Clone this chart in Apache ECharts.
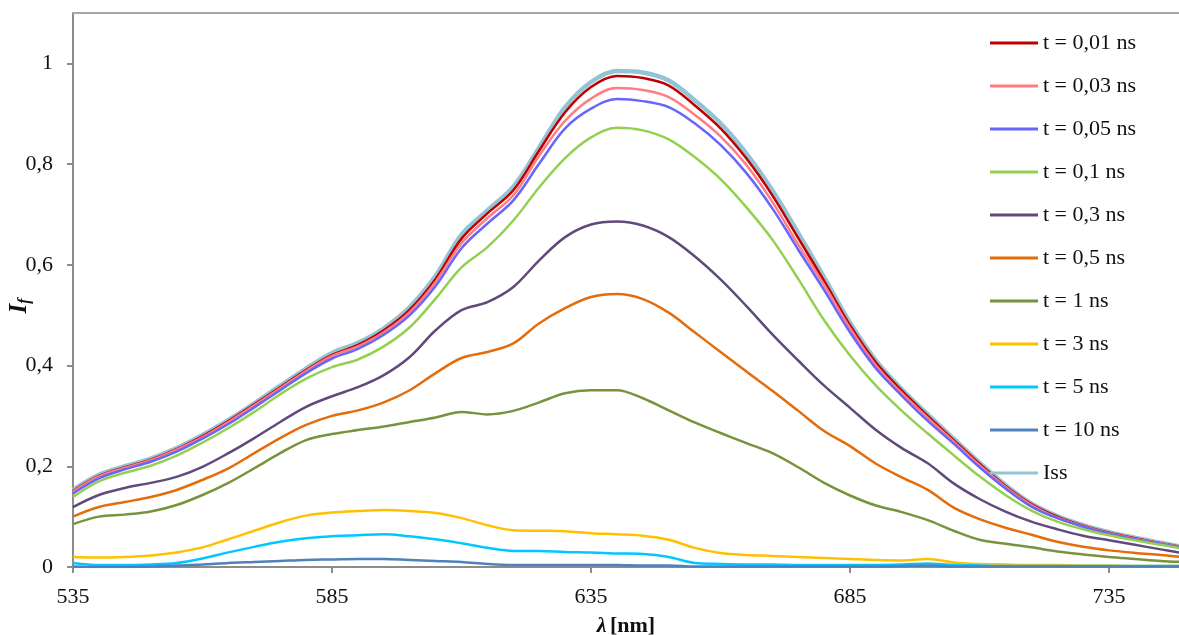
<!DOCTYPE html>
<html lang="en">
  <head>
    <meta charset="UTF-8" />
    <title>spectra</title>
    <style>
      html, body { margin: 0; padding: 0; background: #fff; }
      #main { width: 1179px; height: 635px; }
    </style>
  </head>
  <body>
    <div id="main"></div>
  </body>
  <script src="https://cdn.jsdelivr.net/npm/echarts@6/dist/echarts.min.js"></script>
  <script>
    /* globals echarts */

    // wavelength, nm (every 5 nm, last point at the right edge)
    var wavelengths = [535, 540, 545, 550, 555, 560, 565, 570, 575, 580, 585, 590, 595, 600, 605, 610, 615, 620, 625, 630, 635, 640, 645, 650, 655, 660, 665, 670, 675, 680, 685, 690, 695, 700, 705, 710, 715, 720, 725, 730, 735, 740, 745, 749];

    var t001 = [0.151, 0.181, 0.198, 0.213, 0.234, 0.260, 0.290, 0.323, 0.357, 0.391, 0.421, 0.441, 0.470, 0.511, 0.572, 0.652, 0.702, 0.748, 0.827, 0.903, 0.953, 0.975, 0.971, 0.956, 0.917, 0.871, 0.811, 0.738, 0.653, 0.568, 0.480, 0.406, 0.350, 0.300, 0.252, 0.205, 0.161, 0.125, 0.100, 0.082, 0.068, 0.057, 0.047, 0.040];
    var t003 = [0.150, 0.180, 0.197, 0.212, 0.233, 0.258, 0.288, 0.321, 0.355, 0.389, 0.419, 0.438, 0.466, 0.506, 0.566, 0.643, 0.693, 0.738, 0.817, 0.886, 0.930, 0.951, 0.947, 0.933, 0.898, 0.855, 0.798, 0.725, 0.640, 0.560, 0.474, 0.400, 0.345, 0.296, 0.249, 0.202, 0.159, 0.123, 0.098, 0.081, 0.067, 0.056, 0.047, 0.039];
    var t005 = [0.146, 0.176, 0.194, 0.209, 0.229, 0.255, 0.284, 0.317, 0.351, 0.385, 0.414, 0.433, 0.461, 0.500, 0.558, 0.633, 0.682, 0.728, 0.801, 0.871, 0.910, 0.929, 0.925, 0.913, 0.881, 0.838, 0.782, 0.712, 0.630, 0.550, 0.466, 0.394, 0.340, 0.290, 0.245, 0.198, 0.156, 0.120, 0.097, 0.080, 0.066, 0.055, 0.046, 0.038];
    var t01 = [0.139, 0.170, 0.187, 0.201, 0.221, 0.247, 0.276, 0.308, 0.343, 0.374, 0.397, 0.412, 0.438, 0.476, 0.533, 0.595, 0.635, 0.688, 0.754, 0.812, 0.853, 0.872, 0.867, 0.849, 0.814, 0.770, 0.714, 0.650, 0.572, 0.490, 0.420, 0.360, 0.310, 0.265, 0.222, 0.180, 0.143, 0.112, 0.090, 0.075, 0.063, 0.053, 0.044, 0.037];
    var t03 = [0.119, 0.143, 0.157, 0.167, 0.179, 0.199, 0.226, 0.256, 0.288, 0.318, 0.339, 0.357, 0.381, 0.417, 0.470, 0.510, 0.526, 0.556, 0.609, 0.655, 0.680, 0.686, 0.678, 0.655, 0.617, 0.571, 0.518, 0.462, 0.410, 0.360, 0.316, 0.272, 0.236, 0.206, 0.166, 0.135, 0.110, 0.090, 0.075, 0.062, 0.053, 0.044, 0.035, 0.028];
    var t05 = [0.100, 0.119, 0.129, 0.139, 0.153, 0.173, 0.196, 0.226, 0.256, 0.282, 0.300, 0.311, 0.327, 0.351, 0.385, 0.415, 0.427, 0.444, 0.484, 0.514, 0.536, 0.542, 0.532, 0.505, 0.466, 0.427, 0.388, 0.350, 0.310, 0.270, 0.240, 0.205, 0.178, 0.153, 0.118, 0.095, 0.078, 0.064, 0.050, 0.040, 0.033, 0.028, 0.024, 0.020];
    var t1 = [0.085, 0.100, 0.104, 0.110, 0.123, 0.143, 0.167, 0.196, 0.226, 0.252, 0.264, 0.272, 0.279, 0.288, 0.297, 0.308, 0.303, 0.310, 0.327, 0.345, 0.351, 0.351, 0.335, 0.311, 0.287, 0.266, 0.246, 0.226, 0.198, 0.167, 0.142, 0.122, 0.109, 0.093, 0.072, 0.054, 0.046, 0.039, 0.031, 0.025, 0.020, 0.016, 0.012, 0.010];
    var t3 = [0.020, 0.019, 0.020, 0.023, 0.029, 0.039, 0.055, 0.072, 0.089, 0.102, 0.108, 0.111, 0.113, 0.111, 0.107, 0.097, 0.083, 0.073, 0.072, 0.071, 0.067, 0.065, 0.062, 0.054, 0.038, 0.028, 0.024, 0.022, 0.020, 0.018, 0.016, 0.014, 0.013, 0.016, 0.009, 0.006, 0.005, 0.004, 0.004, 0.003, 0.003, 0.002, 0.002, 0.002];
    var t5 = [0.008, 0.004, 0.004, 0.005, 0.008, 0.017, 0.029, 0.040, 0.050, 0.057, 0.061, 0.063, 0.065, 0.061, 0.055, 0.047, 0.038, 0.032, 0.032, 0.030, 0.029, 0.027, 0.026, 0.020, 0.008, 0.006, 0.005, 0.005, 0.004, 0.004, 0.004, 0.004, 0.005, 0.007, 0.004, 0.003, 0.002, 0.002, 0.002, 0.002, 0.002, 0.002, 0.002, 0.002];
    var t10 = [0.001, 0.000, 0.000, 0.001, 0.003, 0.005, 0.008, 0.010, 0.012, 0.014, 0.015, 0.016, 0.016, 0.014, 0.012, 0.010, 0.006, 0.004, 0.004, 0.004, 0.004, 0.004, 0.003, 0.003, 0.001, 0.001, 0.001, 0.001, 0.001, 0.001, 0.001, 0.001, 0.002, 0.003, 0.001, 0.001, 0.001, 0.001, 0.001, 0.001, 0.001, 0.001, 0.001, 0.001];
    var iss = [0.153, 0.183, 0.200, 0.215, 0.236, 0.262, 0.292, 0.325, 0.360, 0.394, 0.425, 0.445, 0.474, 0.516, 0.578, 0.660, 0.708, 0.755, 0.833, 0.913, 0.963, 0.985, 0.982, 0.966, 0.927, 0.881, 0.821, 0.748, 0.663, 0.575, 0.485, 0.410, 0.353, 0.303, 0.255, 0.207, 0.163, 0.126, 0.101, 0.083, 0.069, 0.058, 0.048, 0.040];

    var names = ["t = 0,01 ns", "t = 0,03 ns", "t = 0,05 ns", "t = 0,1 ns", "t = 0,3 ns", "t = 0,5 ns", "t = 1 ns", "t = 3 ns", "t = 5 ns", "t = 10 ns", "Iss"];
    var values = [t001, t003, t005, t01, t03, t05, t1, t3, t5, t10, iss];
    var colors = ["#C00000", "#FF7C80", "#6666FF", "#92D050", "#604A7B", "#E46C0A", "#77933C", "#FFC000", "#00C8FF", "#4F81BD", "#93C4D4"];

    var serif = "'Liberation Serif', 'DejaVu Serif', serif";
    var axisGray = "#8c8c8c";

    function pairs(ys) {
      return wavelengths.map(function(x, i) {
        return [x, ys[i]];
      });
    }

    var chart = echarts.init(document.getElementById("main"));

    var series = names.map(function(name, i) {
      var isIss = name === "Iss";
      return {
        name: name,
        type: "line",
        data: pairs(values[i]),
        smooth: 0.35,
        symbol: "none",
        z: isIss ? 1 : 2,
        lineStyle: { color: colors[i], width: isIss ? 4.5 : 2.5 },
        itemStyle: { color: colors[i] },
      };
    });

    chart.setOption({
      animation: false,
      grid: {
        left: 73,
        right: 0,
        top: 13,
        bottom: 68,
        outerBoundsMode: "none",
        containLabel: false,
      },
      // y axis title, placed a bit below the axis middle as in the original
      graphic: [
        {
          type: "text",
          x: 20,
          y: 306,
          rotation: Math.PI / 2,
          style: {
            text: "{i|I}{s|f}",
            align: "center",
            verticalAlign: "middle",
            rich: {
              i: { fontFamily: serif, fontSize: 25, fontWeight: "bold", fontStyle: "italic", fill: "#111" },
              s: { fontFamily: serif, fontSize: 16, fontWeight: "bold", fontStyle: "italic", fill: "#111", padding: [10, 0, 0, 0] },
            },
          },
        },
      ],
      legend: {
        orient: "vertical",
        left: 990,
        top: 32,
        padding: 0,
        data: names.map(function(name, i) {
          return { name: name, itemStyle: { color: colors[i] } };
        }),
        icon: "rect",
        itemWidth: 48,
        itemHeight: 3,
        itemGap: 21,
        textStyle: { fontFamily: serif, fontSize: 22, color: "#111" },
      },
      xAxis: [
        {
          type: "value",
          min: 535,
          max: 748.5,
          interval: 50,
          name: "{l|λ} {b|[nm]}",
          nameLocation: "middle",
          nameGap: 48,
          nameTextStyle: {
            rich: {
              l: { fontFamily: serif, fontSize: 22, fontWeight: "bold", fontStyle: "italic", color: "#111" },
              b: { fontFamily: serif, fontSize: 22, fontWeight: "bold", color: "#111" },
            },
          },
          splitLine: { show: false },
          axisLine: { lineStyle: { color: axisGray, width: 2 } },
          axisTick: { length: 6, lineStyle: { color: axisGray, width: 2 } },
          axisLabel: {
            showMaxLabel: false,
            margin: 19,
            fontFamily: serif,
            fontSize: 22,
            color: "#111",
          },
        },
        {
          // top frame line only
          type: "value",
          position: "top",
          min: 535,
          max: 748.5,
          axisLine: { show: true, lineStyle: { color: "#a6a6a6", width: 2 } },
          axisTick: { show: false },
          axisLabel: { show: false },
          splitLine: { show: false },
        },
      ],
      yAxis: {
        type: "value",
        min: 0,
        max: 1.1,
        interval: 0.2,
        splitLine: { show: false },
        axisLine: { show: true, lineStyle: { color: axisGray, width: 2 } },
        axisTick: { show: true, length: 6, lineStyle: { color: axisGray, width: 2 } },
        axisLabel: {
          showMaxLabel: false,
          margin: 20,
          fontFamily: serif,
          fontSize: 22,
          color: "#111",
          formatter: function(v) {
            return String(+v.toFixed(1)).replace(".", ",");
          },
        },
      },
      series: series,
    });
  </script>
</html>
